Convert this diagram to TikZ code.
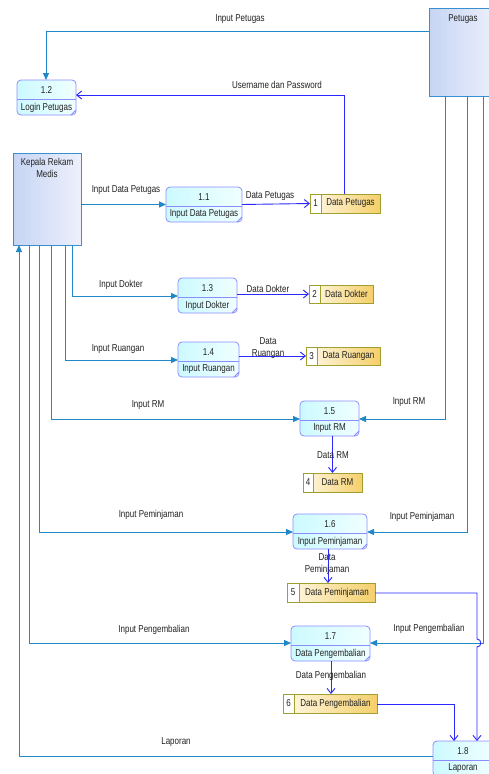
\documentclass[tikz,border=0pt]{standalone}
\usepackage{fontspec}
\setmainfont{Liberation Sans}[FakeStretch=0.8]
\usetikzlibrary{arrows.meta,calc}
\definecolor{eflowc}{HTML}{1E88C8}
\definecolor{pflowc}{HTML}{2828FF}
\definecolor{procb}{HTML}{8C8CFF}
\definecolor{procl}{HTML}{CCFAFF}
\definecolor{procr}{HTML}{F0FFFF}
\definecolor{entb}{HTML}{3A8FD0}
\definecolor{entl}{HTML}{C6D5F4}
\definecolor{entr}{HTML}{EEF0FC}
\definecolor{storeb}{HTML}{A0A030}
\definecolor{storel}{HTML}{FFF8E6}
\definecolor{storer}{HTML}{F5CF6A}
\definecolor{txtc}{HTML}{222222}
\tikzset{
  txt/.style={font=\fontsize{10}{12}\selectfont, text=txtc, inner sep=0pt, align=center},
  procshape/.style={draw=procb, line width=0.8pt, rounded corners=4pt, left color=procl, right color=procr, inner sep=0pt, outer sep=0pt},
  procline/.style={draw=procb, line width=0.8pt},
  entshape/.style={draw=entb, line width=0.9pt, left color=entl, right color=entr, inner sep=0pt, outer sep=0pt},
  storeshape/.style={draw=storeb, line width=0.9pt, left color=storel, right color=storer, inner sep=0pt, outer sep=0pt},
  eflow/.style={draw=eflowc, line width=1pt, -{Triangle[length=7pt,width=6pt]}},
  pflow/.style={draw=pflowc, line width=0.9pt, -{Straight Barb[length=5pt,width=8pt]}},
}
% name, x1, y1, x2, y2, number, label
\newcommand\myproc[7]{%
  \node[procshape, minimum width={#4-#2}, minimum height={#5-#3}] (#1) at ({(#2+#4)/2},{(#3+#5)/2}) {};
  \draw[procline] (#2,#3+19) -- (#4,#3+19);
  \draw[procline] (#4-5,#5) -- (#4,#5-5);
  \node[txt] (#1n) at ({(#2+#4)/2},#3+10) {#6};
  \node[txt] (#1l) at ({(#2+#4)/2},#3+27.5) {#7};
}
% name, x1, y1, x2, y2, xdiv, number, label
\newcommand\mystore[8]{%
  \node[storeshape, minimum width={#4-#2}, minimum height={#5-#3}] (#1) at ({(#2+#4)/2},{(#3+#5)/2}) {};
  \filldraw[fill=white, draw=storeb, line width=0.9pt] (#2,#3) rectangle (#6,#5);
  \node[txt] (#1n) at ({(#2+#6)/2},{(#3+#5)/2}) {#7};
  \node[txt] (#1l) at ({(#6+#4)/2},{(#3+#5)/2}) {#8};
}
\begin{document}
\begin{tikzpicture}[x=1pt,y=-1pt]
\useasboundingbox (0,0) rectangle (489,774);
\fill[white] (0,0) rectangle (489,774);

% external entities
\node[entshape, minimum width=68, minimum height=88] (pet) at (463,52) {};
\node[txt] (pett) at (463,19) {Petugas};
\node[entshape, minimum width=68, minimum height=92] (kep) at (47,199) {};
\node[txt, anchor=north] (kept) at (47,158) {Kepala Rekam\\Medis};

% processes
\myproc{p12}{17}{80}{76}{115}{1.2}{Login Petugas}
\myproc{p11}{166}{187}{242}{222}{1.1}{Input Data Petugas}
\myproc{p13}{178}{278}{237}{313}{1.3}{Input Dokter}
\myproc{p14}{178}{342}{239}{377}{1.4}{Input Ruangan}
\myproc{p15}{300}{401}{359}{436}{1.5}{Input RM}
\myproc{p16}{293}{514}{367}{549}{1.6}{Input Peminjaman}
\myproc{p17}{291}{626}{370}{661}{1.7}{Data Pengembalian}
\myproc{p18}{433}{741}{493}{776}{1.8}{Laporan}

% data stores
\mystore{s1}{310}{194}{380}{213}{321}{1}{Data Petugas}
\mystore{s2}{309}{285}{373}{303}{320}{2}{Data Dokter}
\mystore{s3}{306}{347}{380}{365}{317}{3}{Data Ruangan}
\mystore{s4}{303}{473}{362}{492}{313}{4}{Data RM}
\mystore{s5}{287}{583}{375}{602}{299}{5}{Data Peminjaman}
\mystore{s6}{283}{694}{377}{713}{294}{6}{Data Pengembalian}

% helper coordinates
\coordinate (c1) at (46,31);
\coordinate (c2) at (344,95);
\coordinate (c5) at (72,296);
\coordinate (c7) at (65,360);
\coordinate (c9) at (51,419);
\coordinate (c10) at (445,419);
\coordinate (c12) at (39,532);
\coordinate (c13) at (467,532);
\coordinate (c15) at (29,643);
\coordinate (c16) at (483,643);
\coordinate (c18a) at (477,593);
\coordinate (c18b) at (477,639);
\coordinate (c18c) at (477,647);
\coordinate (c19) at (454,704);
\coordinate (c20) at (19,756);

% flows from Petugas
\draw[eflow] (pet.west |- c1) -- (c1) -- (c1 |- p12.north);
\node[txt] (l1) at (240,19) {Input Petugas};
\draw[eflow] (pet.south -| c10) -- (c10) -- (p15.east |- c10);
\node[txt] (l10) at (409,402) {Input RM};
\draw[eflow] (pet.south -| c13) -- (c13) -- (p16.east |- c13);
\node[txt] (l13) at (422,517) {Input Peminjaman};
\draw[eflow] (pet.south -| c16) -- (c16) -- (p17.east |- c16);
\node[txt] (l16) at (429,629) {Input Pengembalian};

% username dan password
\draw[pflow] (s1.north -| c2) -- (c2) -- (p12.east |- c2);
\node[txt] (l2) at (277,85) {Username dan Password};

% flows from Kepala Rekam Medis
\draw[eflow] (kep.east |- p11.center) -- (p11.west);
\node[txt] (l3) at (126,190) {Input Data Petugas};
\draw[eflow] (kep.south -| c5) -- (c5) -- (p13.west |- c5);
\node[txt] (l5) at (121,285) {Input Dokter};
\draw[eflow] (kep.south -| c7) -- (c7) -- (p14.west |- c7);
\node[txt] (l7) at (118,349) {Input Ruangan};
\draw[eflow] (kep.south -| c9) -- (c9) -- (p15.west |- c9);
\node[txt] (l9) at (148,405) {Input RM};
\draw[eflow] (kep.south -| c12) -- (c12) -- (p16.west |- c12);
\node[txt] (l12) at (151,515) {Input Peminjaman};
\draw[eflow] (kep.south -| c15) -- (c15) -- (p17.west |- c15);
\node[txt] (l15) at (154,630) {Input Pengembalian};

% process to store flows
\draw[pflow] (p11.east) -- (s1.west);
\node[txt] (l4) at (270,196) {Data Petugas};
\draw[pflow] (p13.east |- s2.center) -- (s2.west);
\node[txt] (l6) at (268,289) {Data Dokter};
\draw[pflow] (p14.east |- s3.center) -- (s3.west);
\node[txt] (l8) at (268,348) {Data\\Ruangan};
\draw[pflow] (p15.south -| s4.north) -- (s4.north);
\node[txt] (l11) at (333,455) {Data RM};
\draw[pflow] (p16.south -| 328,0) -- (s5.north -| 328,0);
\node[txt] (l14) at (327,564.5) {Data\\Peminjaman};
\draw[pflow] (p17.south -| 331,0) -- (s6.north -| 331,0);
\node[txt] (l17) at (331,676) {Data Pengembalian};

% stores to Laporan
\draw[pflow] (s5.east |- c18a) -- (c18a) -- (c18b) .. controls (482,639) and (482,647) .. (c18c) -- (c18c |- p18.north);
\draw[pflow] (s6.east |- c19) -- (c19) -- (c19 |- p18.north);

% Laporan
\draw[eflow] (p18.west |- c20) -- (c20) -- (c20 |- kep.south);
\node[txt] (l20) at (176,742) {Laporan};
\end{tikzpicture}
\end{document}
